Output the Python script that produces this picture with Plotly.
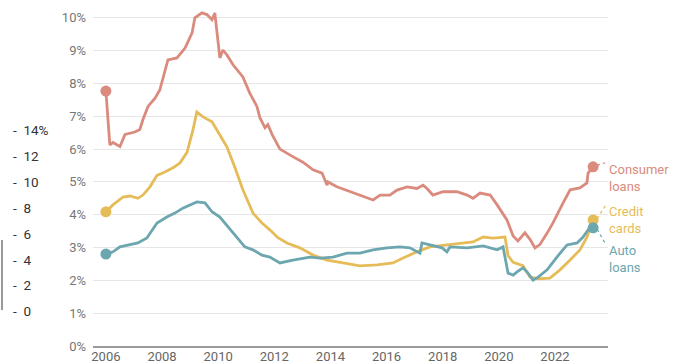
import plotly.graph_objects as go

# ---------------- data ----------------
cons_t = [2006.00, 2006.14, 2006.25, 2006.50, 2006.68, 2007.03, 2007.21, 2007.32, 2007.50, 2007.75,
          2007.92, 2008.21, 2008.53, 2008.82, 2009.07, 2009.17, 2009.42, 2009.60, 2009.78, 2009.88,
          2010.06, 2010.17, 2010.31, 2010.53, 2010.88, 2011.13, 2011.38, 2011.49, 2011.67, 2011.77,
          2011.92, 2012.20, 2012.66, 2013.02, 2013.38, 2013.70, 2013.88, 2013.91, 2014.23, 2014.70,
          2015.05, 2015.52, 2015.77, 2016.12, 2016.37, 2016.73, 2017.08, 2017.30, 2017.44, 2017.65,
          2018.01, 2018.51, 2018.87, 2019.08, 2019.33, 2019.69, 2019.94, 2020.29, 2020.51, 2020.68,
          2020.93, 2021.11, 2021.29, 2021.47, 2021.72, 2021.93, 2022.29, 2022.54, 2022.89, 2023.14,
          2023.18, 2023.36]
cons_v = [7.77, 6.13, 6.20, 6.08, 6.45, 6.52, 6.60, 6.90, 7.30, 7.55,
          7.80, 8.72, 8.78, 9.08, 9.54, 10.00, 10.15, 10.10, 9.94, 10.15,
          8.78, 9.02, 8.87, 8.57, 8.20, 7.70, 7.30, 6.95, 6.65, 6.75,
          6.45, 6.00, 5.77, 5.60, 5.37, 5.27, 4.90, 5.00, 4.85, 4.70,
          4.60, 4.45, 4.60, 4.60, 4.75, 4.85, 4.80, 4.90, 4.80, 4.60,
          4.70, 4.70, 4.60, 4.50, 4.66, 4.60, 4.30, 3.84, 3.35, 3.20,
          3.45, 3.25, 2.99, 3.10, 3.44, 3.75, 4.36, 4.76, 4.82, 4.97,
          5.27, 5.46]

card_t = [2006.00, 2006.25, 2006.61, 2006.86, 2007.14, 2007.32, 2007.57, 2007.82, 2008.10, 2008.39,
          2008.64, 2008.89, 2009.10, 2009.24, 2009.46, 2009.78, 2010.06, 2010.31, 2010.60, 2010.88,
          2011.24, 2011.56, 2011.84, 2012.13, 2012.45, 2012.91, 2013.38, 2013.88, 2014.45, 2015.05,
          2015.66, 2016.23, 2016.59, 2017.08, 2017.55, 2018.15, 2018.62, 2019.08, 2019.44, 2019.79,
          2020.22, 2020.33, 2020.51, 2020.86, 2021.11, 2021.40, 2021.82, 2022.18, 2022.54, 2022.89,
          2023.14, 2023.36]
card_v = [4.09, 4.30, 4.54, 4.57, 4.50, 4.60, 4.85, 5.20, 5.30, 5.43,
          5.58, 5.90, 6.58, 7.13, 6.98, 6.83, 6.43, 6.07, 5.43, 4.76,
          4.05, 3.75, 3.54, 3.30, 3.14, 2.99, 2.77, 2.62, 2.53, 2.44,
          2.47, 2.53, 2.68, 2.87, 3.02, 3.08, 3.14, 3.17, 3.32, 3.29,
          3.32, 2.75, 2.55, 2.45, 2.10, 2.05, 2.07, 2.32, 2.62, 2.93,
          3.32, 3.84]

auto_t = [2006.00, 2006.25, 2006.50, 2006.86, 2007.14, 2007.46, 2007.82, 2008.17, 2008.46, 2008.74,
          2008.99, 2009.24, 2009.53, 2009.78, 2010.06, 2010.35, 2010.67, 2010.95, 2011.24, 2011.56,
          2011.84, 2012.20, 2012.66, 2013.27, 2013.63, 2014.09, 2014.59, 2015.05, 2015.52, 2016.01,
          2016.48, 2016.83, 2017.19, 2017.26, 2017.55, 2017.98, 2018.15, 2018.26, 2018.87, 2019.44,
          2019.94, 2020.15, 2020.33, 2020.51, 2020.65, 2020.86, 2021.04, 2021.22, 2021.40, 2021.72,
          2022.07, 2022.43, 2022.79, 2023.00, 2023.18, 2023.36]
auto_v = [2.80, 2.87, 3.02, 3.08, 3.14, 3.29, 3.75, 3.93, 4.05, 4.20,
          4.30, 4.39, 4.36, 4.09, 3.93, 3.63, 3.32, 3.02, 2.93, 2.77,
          2.71, 2.53, 2.62, 2.71, 2.68, 2.71, 2.83, 2.83, 2.93, 2.99,
          3.02, 2.99, 2.83, 3.14, 3.08, 2.99, 2.87, 3.02, 2.99, 3.05,
          2.93, 3.02, 2.22, 2.16, 2.26, 2.38, 2.22, 2.01, 2.10, 2.32,
          2.71, 3.08, 3.14, 3.32, 3.54, 3.60]

series_names = ["Consumer<br>loans", "Credit<br>cards", "Auto<br>loans"]
year_ticks = [2006, 2008, 2010, 2012, 2014, 2016, 2018, 2020, 2022]
pct_ticks = [0, 1, 2, 3, 4, 5, 6, 7, 8, 9, 10]
side_ticks = [14, 12, 10, 8, 6, 4, 2, 0]

# ---------------- styling ----------------
W, H = 673, 364
ML, MR, MT, MB = 93, 65, 8, 18
colors = ["#DA8B7E", "#E6BC58", "#6CA6AF"]
FONT = "Roboto, Arial, sans-serif"

fig = go.Figure()
data = [(cons_t, cons_v), (card_t, card_v), (auto_t, auto_v)]
for (t, v), c in zip(data, colors):
    fig.add_trace(go.Scatter(x=t, y=v, mode="lines", line=dict(color=c, width=2.8),
                             hoverinfo="skip", showlegend=False))
    fig.add_trace(go.Scatter(x=[t[0], t[-1]], y=[v[0], v[-1]], mode="markers",
                             marker=dict(color=c, size=11), cliponaxis=False,
                             hoverinfo="skip", showlegend=False))

# end labels with dotted leaders
label_dy = [-11, 0, -31]          # px, text block center relative to end dot (negative = down)
lead_end = [(12, 4), (12, 14), (13, -17)]
for (t, v), c, name, dy, (lx, ly) in zip(data, colors, series_names, label_dy, lead_end):
    fig.add_annotation(x=t[-1], y=v[-1], xref="x", yref="y", text=name, showarrow=False,
                       xanchor="left", yanchor="middle", align="left", xshift=14, yshift=dy,
                       font=dict(family=FONT, size=13, color=c))
    fig.add_shape(type="line", xref="x", yref="y", xsizemode="pixel", ysizemode="pixel",
                  xanchor=t[-1], yanchor=v[-1], x0=4, y0=1.5 * ly / max(abs(ly), 1), x1=lx, y1=ly,
                  line=dict(color=c, width=1.2, dash="dot"))

# stray side axis on the far left
plot_w = W - ML - MR
plot_h = H - MT - MB
def px_x(px):
    return (px - ML) / plot_w
def px_y(py):
    return (H - MB - py) / plot_h

for i, val in enumerate(side_ticks):
    txt = "-  " + str(val) + ("%" if i == 0 else "")
    fig.add_annotation(x=px_x(11), y=px_y(130 + i * 25.9), xref="paper", yref="paper",
                       text=txt, showarrow=False, xanchor="left", yanchor="middle",
                       font=dict(family=FONT, size=13.5, color="#333333"))
fig.add_shape(type="line", xref="paper", yref="paper", x0=px_x(2), x1=px_x(2),
              y0=px_y(240), y1=px_y(310), line=dict(color="#555555", width=1.2))

fig.update_layout(
    width=W, height=H, margin=dict(l=ML, r=MR, t=MT, b=MB, autoexpand=False),
    paper_bgcolor="white", plot_bgcolor="white",
    font=dict(family=FONT, size=13, color="#666666"),
    xaxis=dict(range=[2005.54, 2023.89], tickmode="array", tickvals=year_ticks,
               ticktext=[str(y) for y in year_ticks], showgrid=False, zeroline=False,
               showline=True, linecolor="#9a9a9a", linewidth=2, ticks="", automargin=False,
               ticklabelstandoff=-3, tickfont=dict(size=13, color="#666666")),
    yaxis=dict(range=[0, 10.3], tickmode="array", tickvals=pct_ticks,
               ticktext=[f"{p}%" for p in pct_ticks], showgrid=True, gridcolor="#e6e6e6",
               gridwidth=1, zeroline=False, ticks="", automargin=False, ticklabelstandoff=6,
               tickfont=dict(size=13, color="#777777")),
)

fig.write_html("out.html")
